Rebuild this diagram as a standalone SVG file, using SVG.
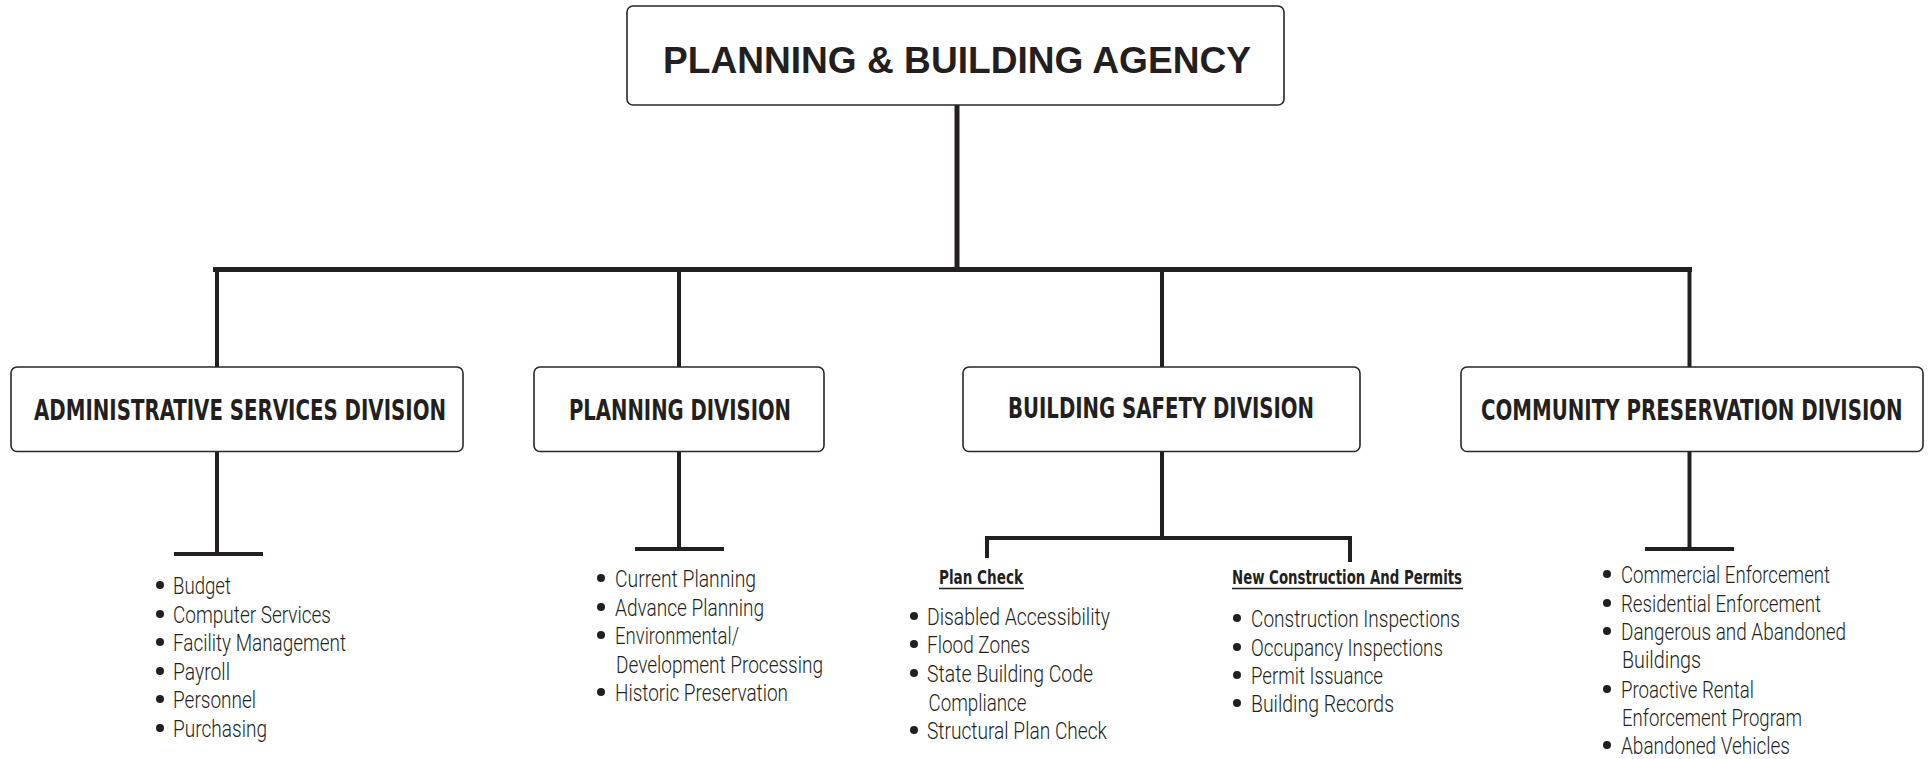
<svg xmlns="http://www.w3.org/2000/svg" width="1930" height="759" viewBox="0 0 1930 759">
<style>
.box{fill:#fff;stroke:#2a2627;stroke-width:1.6}
.ln{stroke:#231f20;fill:none;stroke-linecap:butt}
.t{font-family:"Liberation Sans Narrow","DejaVu Sans Condensed","Liberation Sans",sans-serif;fill:#231f20}
.title{font-family:"Liberation Sans","Arial",sans-serif;font-weight:bold;font-size:36px;fill:#231f20}
.div{font-weight:bold;font-size:28px}
.it{font-family:Roboto,"Liberation Sans",sans-serif;font-weight:300;font-size:24px;fill:#231f20}
.sub{font-weight:bold;font-size:19px}
.dot{fill:#231f20}
</style>
<rect width="1930" height="759" fill="#fff"/>
<g id="connectors">
<line class="ln" x1="957" y1="105" x2="957" y2="270" stroke-width="5"/>
<line class="ln" x1="213" y1="269.5" x2="1692" y2="269.5" stroke-width="5"/>
<line class="ln" x1="217" y1="270" x2="217" y2="367" stroke-width="4"/>
<line class="ln" x1="679" y1="270" x2="679" y2="367" stroke-width="4"/>
<line class="ln" x1="1162" y1="270" x2="1162" y2="367" stroke-width="4"/>
<line class="ln" x1="1689.5" y1="270" x2="1689.5" y2="367" stroke-width="4"/>
<line class="ln" x1="217" y1="452" x2="217" y2="554" stroke-width="4"/>
<line class="ln" x1="174" y1="554" x2="263" y2="554" stroke-width="4"/>
<line class="ln" x1="679" y1="452" x2="679" y2="549" stroke-width="4"/>
<line class="ln" x1="635" y1="549" x2="724" y2="549" stroke-width="4"/>
<line class="ln" x1="1689.5" y1="452" x2="1689.5" y2="549" stroke-width="4"/>
<line class="ln" x1="1645" y1="549" x2="1734" y2="549" stroke-width="4"/>
<line class="ln" x1="1162" y1="452" x2="1162" y2="538" stroke-width="4"/>
<polyline class="ln" points="987,558 987,538 1350,538 1350,562" stroke-width="4"/>
</g>
<g id="agency">
<rect class="box" x="627" y="6" width="657" height="99" rx="6"/>
<text class="title" x="663" y="73" textLength="588" lengthAdjust="spacingAndGlyphs">PLANNING &amp; BUILDING AGENCY</text>
</g>
<g id="admin">
<rect class="box" x="11" y="367" width="452" height="84.5" rx="6"/>
<text class="t div" x="34" y="420" textLength="412" lengthAdjust="spacingAndGlyphs">ADMINISTRATIVE SERVICES DIVISION</text>
<g class="dot"><circle cx="160" cy="585" r="4"/><circle cx="160" cy="614" r="4"/><circle cx="160" cy="642" r="4"/><circle cx="160" cy="671" r="4"/><circle cx="160" cy="699" r="4"/><circle cx="160" cy="728" r="4"/></g>
<text class="it" x="173" y="594" textLength="58" lengthAdjust="spacingAndGlyphs">Budget</text>
<text class="it" x="173" y="623" textLength="158" lengthAdjust="spacingAndGlyphs">Computer Services</text>
<text class="it" x="173" y="651" textLength="173" lengthAdjust="spacingAndGlyphs">Facility Management</text>
<text class="it" x="173" y="680" textLength="57" lengthAdjust="spacingAndGlyphs">Payroll</text>
<text class="it" x="173" y="708" textLength="83" lengthAdjust="spacingAndGlyphs">Personnel</text>
<text class="it" x="173" y="737" textLength="94" lengthAdjust="spacingAndGlyphs">Purchasing</text>
</g>
<g id="planning">
<rect class="box" x="534" y="367" width="290" height="84.5" rx="6"/>
<text class="t div" x="569" y="420" textLength="222" lengthAdjust="spacingAndGlyphs">PLANNING DIVISION</text>
<g class="dot"><circle cx="601" cy="578" r="4"/><circle cx="601" cy="607" r="4"/><circle cx="601" cy="635" r="4"/><circle cx="601" cy="692" r="4"/></g>
<text class="it" x="615" y="587" textLength="141" lengthAdjust="spacingAndGlyphs">Current Planning</text>
<text class="it" x="615" y="616" textLength="149" lengthAdjust="spacingAndGlyphs">Advance Planning</text>
<text class="it" x="615" y="644" textLength="124" lengthAdjust="spacingAndGlyphs">Environmental/</text>
<text class="it" x="616" y="673" textLength="207" lengthAdjust="spacingAndGlyphs">Development Processing</text>
<text class="it" x="615" y="701" textLength="173" lengthAdjust="spacingAndGlyphs">Historic Preservation</text>
</g>
<g id="building">
<rect class="box" x="963" y="367" width="397" height="84.5" rx="6"/>
<text class="t div" x="1008" y="418" textLength="306" lengthAdjust="spacingAndGlyphs">BUILDING SAFETY DIVISION</text>
</g>
<g id="plan-check">
<text class="t sub" x="939" y="584" textLength="84" lengthAdjust="spacingAndGlyphs">Plan Check</text>
<line class="ln" x1="939" y1="588.5" x2="1024" y2="588.5" stroke-width="1.5"/>
<g class="dot"><circle cx="914" cy="616" r="4"/><circle cx="914" cy="644" r="4"/><circle cx="914" cy="673" r="4"/><circle cx="914" cy="730" r="4"/></g>
<text class="it" x="927" y="625" textLength="183" lengthAdjust="spacingAndGlyphs">Disabled Accessibility</text>
<text class="it" x="927" y="653" textLength="103" lengthAdjust="spacingAndGlyphs">Flood Zones</text>
<text class="it" x="927" y="682" textLength="166" lengthAdjust="spacingAndGlyphs">State Building Code</text>
<text class="it" x="928.5" y="711" textLength="98" lengthAdjust="spacingAndGlyphs">Compliance</text>
<text class="it" x="927" y="739" textLength="180" lengthAdjust="spacingAndGlyphs">Structural Plan Check</text>
</g>
<g id="new-construction">
<text class="t sub" x="1232" y="584" textLength="230" lengthAdjust="spacingAndGlyphs">New Construction And Permits</text>
<line class="ln" x1="1232" y1="588.5" x2="1463" y2="588.5" stroke-width="1.5"/>
<g class="dot"><circle cx="1237" cy="618" r="4"/><circle cx="1237" cy="647" r="4"/><circle cx="1237" cy="675" r="4"/><circle cx="1237" cy="703" r="4"/></g>
<text class="it" x="1251" y="627" textLength="209" lengthAdjust="spacingAndGlyphs">Construction Inspections</text>
<text class="it" x="1251" y="656" textLength="192" lengthAdjust="spacingAndGlyphs">Occupancy Inspections</text>
<text class="it" x="1251" y="684" textLength="132" lengthAdjust="spacingAndGlyphs">Permit Issuance</text>
<text class="it" x="1251" y="712" textLength="143" lengthAdjust="spacingAndGlyphs">Building Records</text>
</g>
<g id="community">
<rect class="box" x="1461" y="367" width="462" height="84.5" rx="6"/>
<text class="t div" transform="translate(1481 420) scale(0.83 1)" x="0" y="0" textLength="508" lengthAdjust="spacingAndGlyphs">COMMUNITY PRESERVATION DIVISION</text>
<g class="dot"><circle cx="1607" cy="574" r="4"/><circle cx="1607" cy="603" r="4"/><circle cx="1607" cy="631" r="4"/><circle cx="1607" cy="689" r="4"/><circle cx="1607" cy="745" r="4"/></g>
<text class="it" x="1621" y="583" textLength="209" lengthAdjust="spacingAndGlyphs">Commercial Enforcement</text>
<text class="it" x="1621" y="612" textLength="200" lengthAdjust="spacingAndGlyphs">Residential Enforcement</text>
<text class="it" x="1621" y="640" textLength="225" lengthAdjust="spacingAndGlyphs">Dangerous and Abandoned</text>
<text class="it" x="1622" y="668" textLength="79" lengthAdjust="spacingAndGlyphs">Buildings</text>
<text class="it" x="1621" y="698" textLength="133" lengthAdjust="spacingAndGlyphs">Proactive Rental</text>
<text class="it" x="1622" y="726" textLength="180" lengthAdjust="spacingAndGlyphs">Enforcement Program</text>
<text class="it" x="1621" y="754" textLength="169" lengthAdjust="spacingAndGlyphs">Abandoned Vehicles</text>
</g>
</svg>
